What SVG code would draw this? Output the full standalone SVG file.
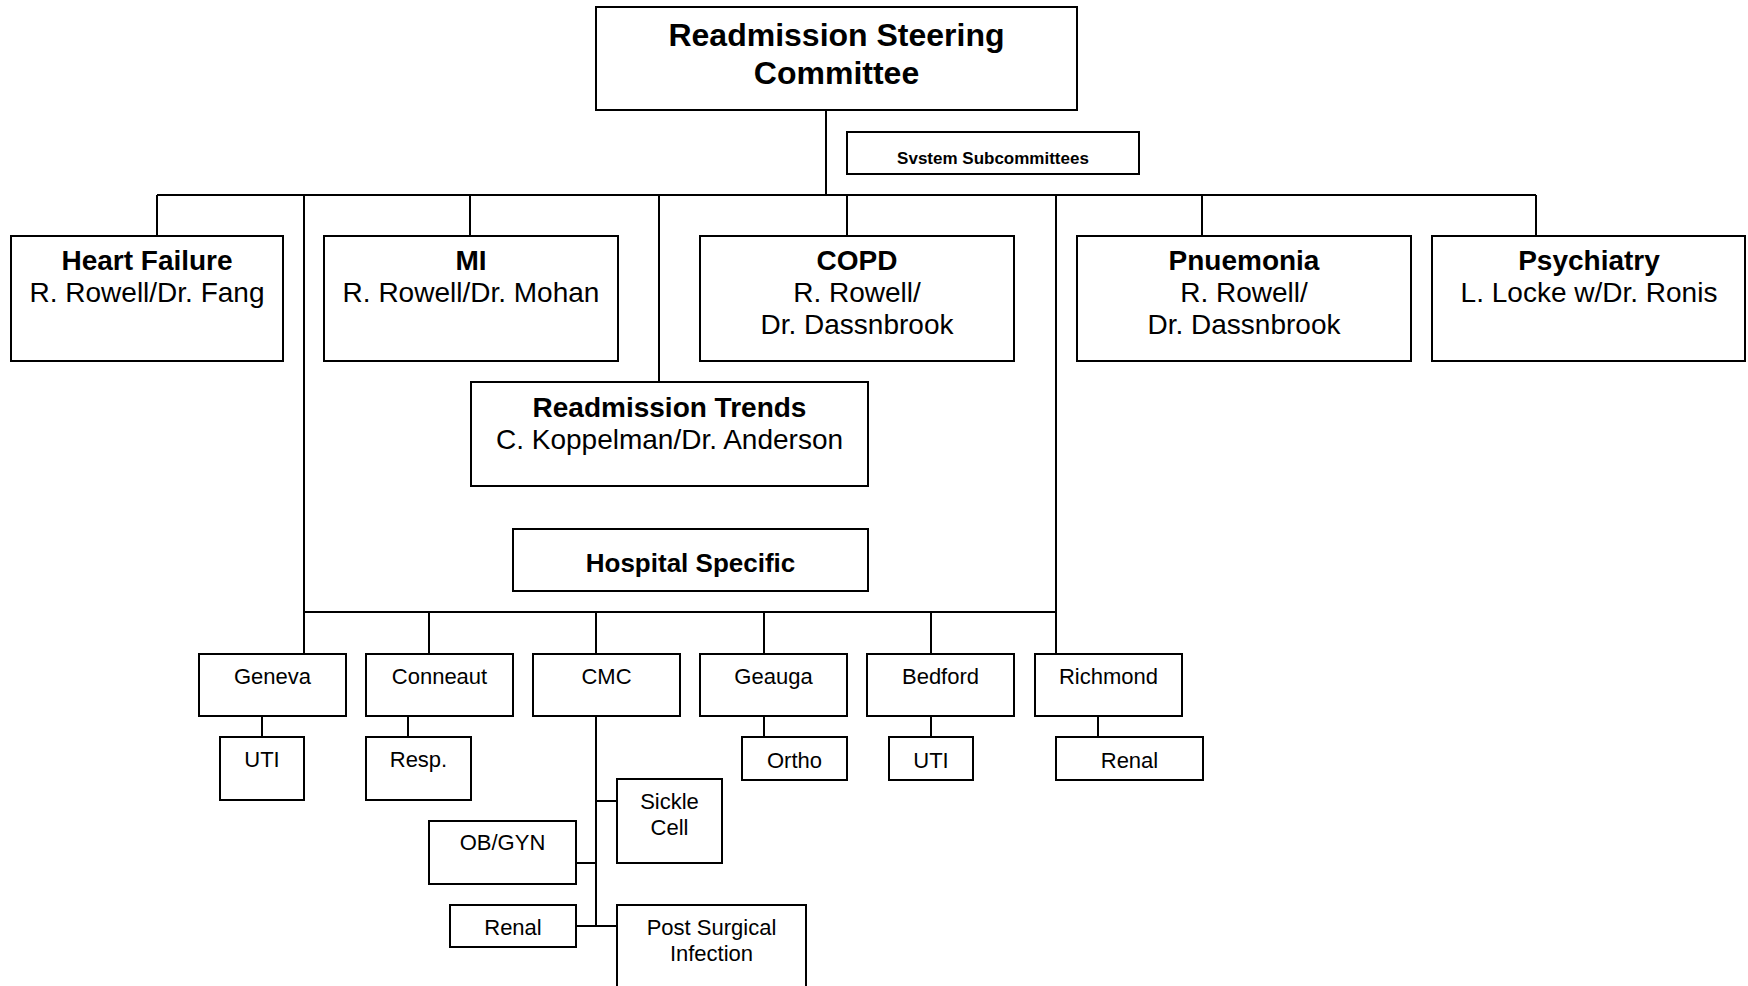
<svg xmlns="http://www.w3.org/2000/svg" width="1748" height="986" viewBox="0 0 1748 986">
<style>
rect{fill:#fff;stroke:#000;stroke-width:2}
#connectors line{stroke:#000;stroke-width:2}
text{font-family:"Liberation Sans",Arial,sans-serif;fill:#000;text-anchor:middle}
.t{font-size:32px;font-weight:bold}
.h{font-size:28px;font-weight:bold}
.n{font-size:28px}
.s{font-size:17px;font-weight:bold}
.hs{font-size:26px;font-weight:bold}
.m{font-size:22px}
</style>
<rect x="0" y="0" width="1748" height="986" style="stroke:none"/>
<g id="connectors">
<line x1="826" y1="110" x2="826" y2="195"/>
<line x1="157" y1="195" x2="1536" y2="195"/>
<line x1="157" y1="195" x2="157" y2="236"/>
<line x1="470" y1="195" x2="470" y2="236"/>
<line x1="847" y1="195" x2="847" y2="236"/>
<line x1="1202" y1="195" x2="1202" y2="236"/>
<line x1="1536" y1="195" x2="1536" y2="236"/>
<line x1="304" y1="195" x2="304" y2="654"/>
<line x1="1056" y1="195" x2="1056" y2="654"/>
<line x1="659" y1="195" x2="659" y2="382"/>
<line x1="304" y1="612" x2="1056" y2="612"/>
<line x1="429" y1="612" x2="429" y2="654"/>
<line x1="596" y1="612" x2="596" y2="654"/>
<line x1="764" y1="612" x2="764" y2="654"/>
<line x1="931" y1="612" x2="931" y2="654"/>
<line x1="262" y1="716" x2="262" y2="737"/>
<line x1="408" y1="716" x2="408" y2="737"/>
<line x1="764" y1="716" x2="764" y2="737"/>
<line x1="931" y1="716" x2="931" y2="737"/>
<line x1="1098" y1="716" x2="1098" y2="737"/>
<line x1="596" y1="716" x2="596" y2="926"/>
<line x1="596" y1="801" x2="617" y2="801"/>
<line x1="576" y1="863" x2="596" y2="863"/>
<line x1="576" y1="926" x2="617" y2="926"/>
</g>
<g id="steering"><rect x="596" y="7" width="481" height="103"/><text class="t" x="836.5" y="46">Readmission Steering</text><text class="t" x="836.5" y="84">Committee</text></g>
<g id="subcommittees"><rect x="847" y="132" width="292" height="42"/><text class="s" x="993" y="164">Svstem Subcommittees</text></g>
<g id="heart-failure"><rect x="11" y="236" width="272" height="125"/><text class="h" x="147" y="270">Heart Failure</text><text class="n" x="147" y="302">R. Rowell/Dr. Fang</text></g>
<g id="mi"><rect x="324" y="236" width="294" height="125"/><text class="h" x="471" y="270">MI</text><text class="n" x="471" y="302">R. Rowell/Dr. Mohan</text></g>
<g id="copd"><rect x="700" y="236" width="314" height="125"/><text class="h" x="857" y="270">COPD</text><text class="n" x="857" y="302">R. Rowell/</text><text class="n" x="857" y="334">Dr. Dassnbrook</text></g>
<g id="pnuemonia"><rect x="1077" y="236" width="334" height="125"/><text class="h" x="1244" y="270">Pnuemonia</text><text class="n" x="1244" y="302">R. Rowell/</text><text class="n" x="1244" y="334">Dr. Dassnbrook</text></g>
<g id="psychiatry"><rect x="1432" y="236" width="313" height="125"/><text class="h" x="1589" y="270">Psychiatry</text><text class="n" x="1589" y="302">L. Locke w/Dr. Ronis</text></g>
<g id="trends"><rect x="471" y="382" width="397" height="104"/><text class="h" x="669.5" y="417">Readmission Trends</text><text class="n" x="669.5" y="449">C. Koppelman/Dr. Anderson</text></g>
<g id="hospital-specific"><rect x="513" y="529" width="355" height="62"/><text class="hs" x="690.5" y="572">Hospital Specific</text></g>
<g id="geneva"><rect x="199" y="654" width="147" height="62"/><text class="m" x="272.5" y="684">Geneva</text></g>
<g id="conneaut"><rect x="366" y="654" width="147" height="62"/><text class="m" x="439.5" y="684">Conneaut</text></g>
<g id="cmc"><rect x="533" y="654" width="147" height="62"/><text class="m" x="606.5" y="684">CMC</text></g>
<g id="geauga"><rect x="700" y="654" width="147" height="62"/><text class="m" x="773.5" y="684">Geauga</text></g>
<g id="bedford"><rect x="867" y="654" width="147" height="62"/><text class="m" x="940.5" y="684">Bedford</text></g>
<g id="richmond"><rect x="1035" y="654" width="147" height="62"/><text class="m" x="1108.5" y="684">Richmond</text></g>
<g id="geneva-uti"><rect x="220" y="737" width="84" height="63"/><text class="m" x="262" y="767">UTI</text></g>
<g id="conneaut-resp"><rect x="366" y="737" width="105" height="63"/><text class="m" x="418.5" y="767">Resp.</text></g>
<g id="geauga-ortho"><rect x="742" y="737" width="105" height="43"/><text class="m" x="794.5" y="768">Ortho</text></g>
<g id="bedford-uti"><rect x="889" y="737" width="84" height="43"/><text class="m" x="931" y="768">UTI</text></g>
<g id="richmond-renal"><rect x="1056" y="737" width="147" height="43"/><text class="m" x="1129.5" y="768">Renal</text></g>
<g id="cmc-sickle"><rect x="617" y="779" width="105" height="84"/><text class="m" x="669.5" y="809">Sickle</text><text class="m" x="669.5" y="835">Cell</text></g>
<g id="cmc-obgyn"><rect x="429" y="821" width="147" height="63"/><text class="m" x="502.5" y="850">OB/GYN</text></g>
<g id="cmc-renal"><rect x="450" y="905" width="126" height="42"/><text class="m" x="513" y="935">Renal</text></g>
<g id="cmc-postsurgical"><rect x="617" y="905" width="189" height="95"/><text class="m" x="711.5" y="935">Post Surgical</text><text class="m" x="711.5" y="961">Infection</text></g>
</svg>
